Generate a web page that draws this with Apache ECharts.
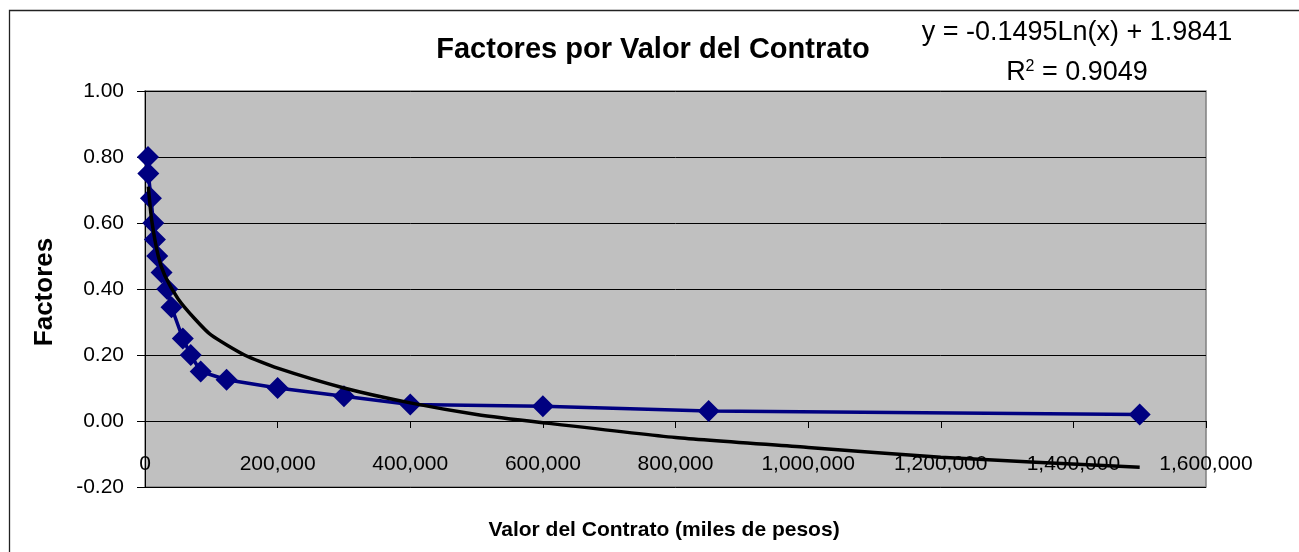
<!DOCTYPE html>
<html>
<head>
<meta charset="utf-8">
<script src="https://cdn.jsdelivr.net/npm/echarts@6/dist/echarts.min.js"></script>
<style>
    html, body { margin: 0; padding: 0; background: #fff; }
    #chart { width: 1299px; height: 552px; }
</style>
</head>
<body>
<div id="chart"></div>
<script>
// valor del contrato (miles de pesos) y factor de cada punto
const contractValues = [4500, 5000, 9000, 12500, 15000, 18500, 25000, 33500, 40000, 57000, 69000, 84000, 123000, 200000, 300000, 400000, 600000, 850000, 1500000];
const factors = [0.80, 0.75, 0.675, 0.60, 0.55, 0.50, 0.45, 0.40, 0.345, 0.25, 0.20, 0.15, 0.125, 0.10, 0.075, 0.05, 0.045, 0.03, 0.02];

// linea de tendencia logaritmica
const trendX = [5000, 10000, 20000, 30000, 50000, 75000, 100000, 150000, 200000, 300000, 400000, 500000, 600000, 800000, 1000000, 1200000, 1500000];
const trendY = [0.71, 0.61, 0.50, 0.44, 0.37, 0.31, 0.26, 0.20, 0.16, 0.10, 0.055, 0.02, -0.005, -0.05, -0.08, -0.11, -0.14];

const yTicks = [-0.2, 1.0, 0.2];          // min, max, interval
const xTicks = [0, 1600000, 200000];

const titleText = 'Factores por Valor del Contrato';
const xTitle = 'Valor del Contrato (miles de pesos)';
const yTitle = 'Factores';
const eqLine1 = 'y = -0.1495Ln(x) + 1.9841';
const eqLine2 = '0.9049';

const fontArial = '"Liberation Sans", Arial, sans-serif';

function zip(a, b) {
    return a.map(function (v, i) { return [v, b[i]]; });
}

let chart = echarts.init(document.getElementById('chart'));

const option = {
    animation: false,
    backgroundColor: '#fff',
    graphic: [
        {
            type: 'rect',
            left: 7, top: 8,
            shape: {width: 1320, height: 580},
            style: {fill: 'none', stroke: '#222', lineWidth: 1.3},
            silent: true
        },
        {
            type: 'text',
            x: 653, y: 50,
            style: {
                text: titleText,
                font: 'bold 29px ' + fontArial,
                fill: '#000',
                align: 'center',
                verticalAlign: 'middle'
            }
        },
        {
            type: 'text',
            x: 664, y: 530,
            style: {
                text: xTitle,
                font: 'bold 21px ' + fontArial,
                fill: '#000',
                align: 'center',
                verticalAlign: 'middle'
            }
        },
        {
            type: 'text',
            x: 45, y: 292,
            rotation: Math.PI / 2,
            style: {
                text: yTitle,
                font: 'bold 26px ' + fontArial,
                fill: '#000',
                align: 'center',
                verticalAlign: 'middle'
            }
        },
        {
            type: 'text',
            x: 1077, y: 33,
            style: {
                text: eqLine1,
                font: '27px ' + fontArial,
                fill: '#000',
                align: 'center',
                verticalAlign: 'middle'
            }
        },
        {
            type: 'text',
            x: 1077, y: 73,
            style: {
                text: '{r|R}{sup|2}{r| = ' + eqLine2 + '}',
                align: 'center',
                verticalAlign: 'middle',
                rich: {
                    r: {font: '27px ' + fontArial, color: '#000'},
                    sup: {font: '16px ' + fontArial, color: '#000', verticalAlign: 'top', padding: [0, 0, 12, 0]}
                }
            }
        }
    ],
    grid: {
        left: 145,
        right: 93,
        top: 91,
        bottom: 65,
        outerBoundsMode: 'none',
        containLabel: false,
        show: true,
        backgroundColor: '#c0c0c0',
        borderColor: '#808080',
        borderWidth: 1.5
    },
    xAxis: {
        type: 'value',
        min: xTicks[0],
        max: xTicks[1],
        interval: xTicks[2],
        axisLine: {onZero: true, lineStyle: {color: '#000', width: 1}},
        axisTick: {show: true, inside: false, length: 7, lineStyle: {color: '#000'}},
        axisLabel: {
            margin: -33,
            fontFamily: fontArial, fontSize: 21, color: '#000',
            formatter: function (v) { return v.toLocaleString('en-US'); }
        },
        splitLine: {show: false}
    },
    yAxis: {
        type: 'value',
        min: yTicks[0],
        max: yTicks[1],
        interval: yTicks[2],
        axisLine: {show: true, lineStyle: {color: '#000', width: 1}},
        axisTick: {show: true, inside: false, length: 8, lineStyle: {color: '#000'}},
        axisLabel: {
            margin: 21,
            fontFamily: fontArial, fontSize: 21, color: '#000',
            formatter: function (v) { return v.toFixed(2); }
        },
        splitLine: {show: true, lineStyle: {color: '#000', width: 1}}
    },
    series: [
        {
            name: 'Factores',
            type: 'line',
            data: zip(contractValues, factors),
            symbol: 'diamond',
            symbolSize: 22,
            itemStyle: {color: '#000080'},
            lineStyle: {color: '#000080', width: 3.5},
            z: 2
        },
        {
            name: 'Tendencia',
            type: 'line',
            data: zip(trendX, trendY),
            showSymbol: false,
            smooth: 0.2,
            lineStyle: {color: '#000', width: 3.5},
            z: 3
        }
    ]
};

chart.setOption(option);

window.addEventListener('resize', function () {
    chart.resize();
});
</script>
</body>
</html>
